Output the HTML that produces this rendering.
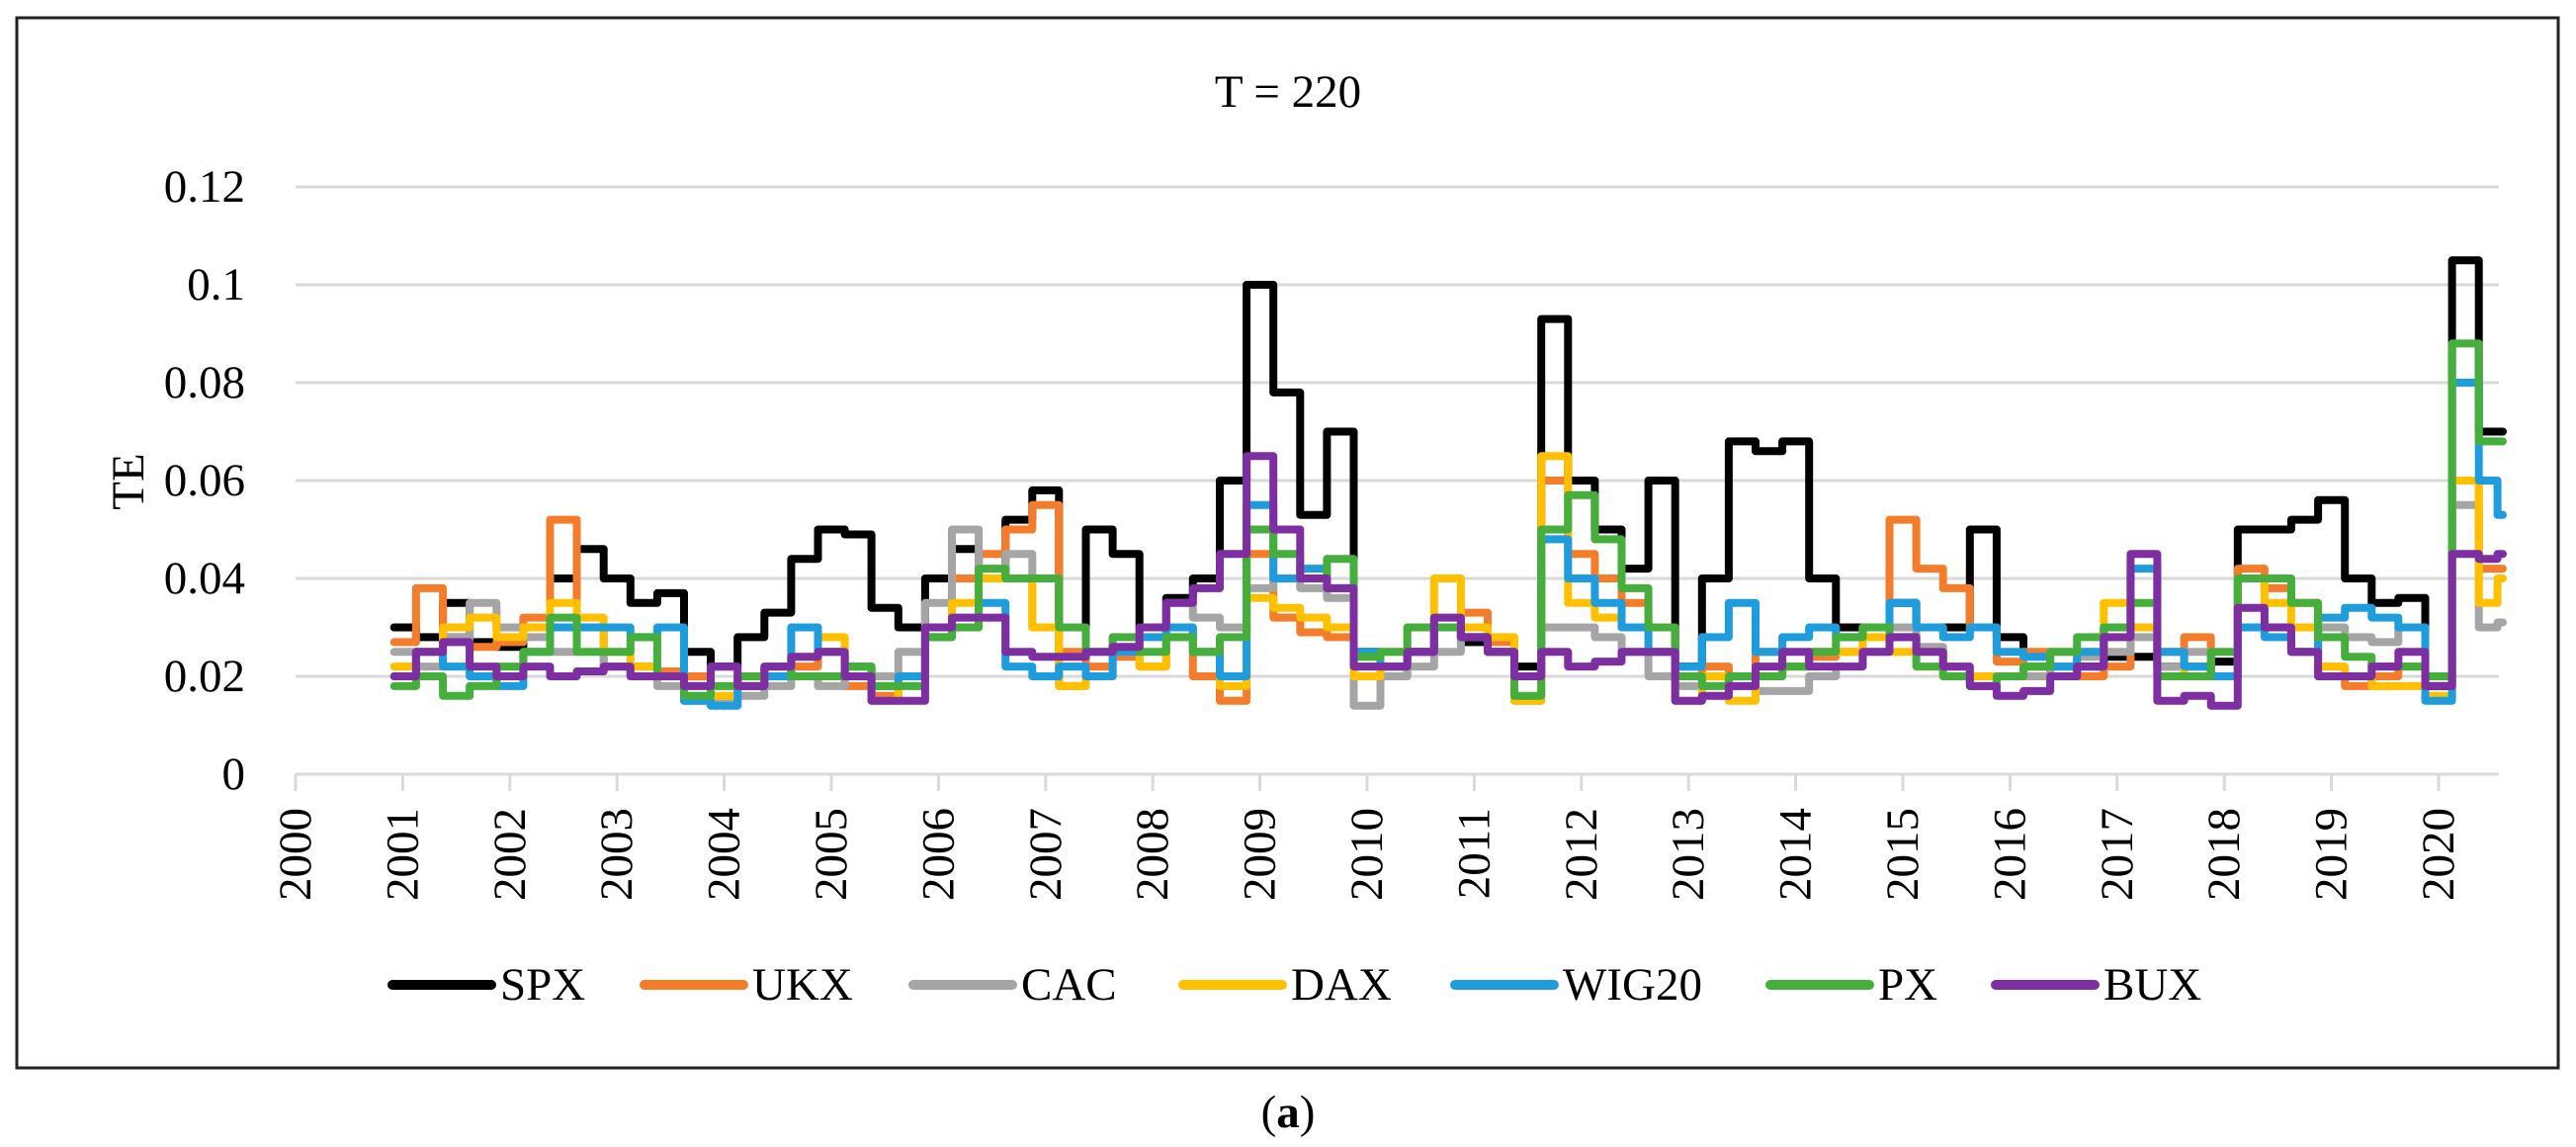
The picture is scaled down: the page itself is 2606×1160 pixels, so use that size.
<!DOCTYPE html>
<html><head><meta charset="utf-8"><style>
html,body{margin:0;padding:0;background:#fff;}
svg{display:block;font-family:"Liberation Serif",serif;}
</style></head><body>
<svg id="chart" width="2606" height="1160" viewBox="0 0 2606 1160">
<rect x="17" y="18" width="2571" height="1062" fill="#fff" stroke="#222" stroke-width="3"/>
<text x="1303" y="108" font-size="47" text-anchor="middle">T = 220</text>
<text transform="translate(130,487) rotate(-90)" font-size="47" text-anchor="middle" dominant-baseline="central">TE</text>
<g id="grid"></g><g id="axes"></g><g id="series"></g><g id="legend"></g>
<text x="1303" y="1140" font-size="47" text-anchor="middle">(<tspan font-weight="bold">a</tspan>)</text>
</svg>
<script>
const yTicks=[0,0.02,0.04,0.06,0.08,0.1,0.12];
const yTickLabels=["0","0.02","0.04","0.06","0.08","0.1","0.12"];
const years=[2000,2001,2002,2003,2004,2005,2006,2007,2008,2009,2010,2011,2012,2013,2014,2015,2016,2017,2018,2019,2020];
const seriesNames=["SPX","UKX","CAC","DAX","WIG20","PX","BUX"];
const seriesColors=["#000000","#F47D2C","#A5A5A5","#FFC000","#1F9CDB","#45AE3D","#7D2EA1"];
const dates=[];
for(let y=2001;y<2020.6;y+=0.25){dates.push(y);}
dates.push(2020.6);
const spx=[.030,.028,.035,.027,.026,.030,.040,.046,.040,.035,.037,.025,.022,.028,.033,.044,.050,.049,.034,.030,.040,.046,.040,.052,.058,.030,.050,.045,.030,.036,.040,.060,.100,.078,.053,.070,.025,.022,.025,.030,.027,.025,.022,.093,.060,.050,.042,.060,.022,.040,.068,.066,.068,.040,.030,.030,.035,.030,.030,.050,.028,.022,.020,.022,.024,.024,.022,.022,.023,.050,.050,.052,.056,.040,.035,.036,.018,.105,.070,.070];
const ukx=[.027,.038,.028,.026,.027,.032,.052,.030,.022,.022,.021,.020,.015,.018,.020,.022,.025,.018,.016,.020,.030,.040,.045,.050,.055,.025,.022,.024,.022,.030,.020,.015,.045,.032,.029,.028,.022,.020,.025,.030,.033,.027,.020,.060,.045,.040,.035,.030,.020,.022,.020,.025,.022,.024,.025,.030,.052,.042,.038,.030,.023,.025,.022,.020,.022,.030,.025,.028,.020,.042,.038,.035,.020,.018,.020,.022,.020,.060,.042,.042];
const cac=[.025,.022,.028,.035,.030,.028,.025,.030,.022,.020,.018,.015,.015,.016,.018,.020,.018,.022,.020,.025,.035,.050,.040,.045,.030,.018,.020,.025,.030,.035,.032,.030,.038,.040,.038,.036,.014,.020,.022,.025,.028,.025,.015,.030,.030,.028,.025,.020,.018,.020,.018,.017,.017,.020,.022,.025,.030,.026,.022,.020,.020,.020,.022,.024,.025,.028,.022,.025,.020,.030,.030,.025,.030,.028,.027,.030,.020,.055,.030,.031];
const dax=[.022,.025,.030,.032,.028,.030,.035,.032,.025,.022,.020,.018,.016,.020,.022,.024,.028,.020,.015,.020,.030,.035,.040,.040,.030,.018,.020,.025,.022,.028,.025,.018,.036,.034,.032,.030,.020,.025,.030,.040,.030,.028,.015,.065,.035,.032,.030,.025,.015,.020,.015,.020,.022,.025,.025,.028,.025,.025,.022,.020,.020,.022,.025,.025,.035,.030,.020,.022,.020,.040,.035,.030,.022,.020,.018,.018,.016,.060,.035,.040];
const wig20=[.020,.025,.022,.020,.018,.025,.030,.030,.030,.028,.030,.015,.014,.018,.020,.030,.025,.022,.018,.020,.028,.030,.035,.022,.020,.022,.020,.025,.028,.030,.025,.020,.055,.040,.042,.038,.025,.022,.025,.030,.028,.025,.020,.048,.040,.035,.030,.025,.022,.028,.035,.025,.028,.030,.028,.030,.035,.030,.028,.030,.025,.024,.022,.025,.030,.042,.025,.022,.020,.030,.028,.025,.032,.034,.032,.030,.015,.080,.060,.053];
const px=[.018,.020,.016,.018,.022,.025,.032,.025,.025,.028,.020,.016,.018,.020,.022,.020,.020,.022,.018,.018,.028,.030,.042,.040,.040,.030,.025,.028,.025,.028,.025,.028,.050,.045,.040,.044,.024,.025,.030,.030,.028,.025,.016,.050,.057,.048,.038,.030,.020,.018,.020,.020,.022,.025,.028,.030,.028,.022,.020,.018,.020,.022,.025,.028,.030,.035,.020,.020,.025,.040,.040,.035,.028,.024,.022,.022,.020,.088,.068,.068];
const bux=[.020,.025,.027,.022,.020,.022,.020,.021,.022,.020,.020,.018,.022,.018,.022,.024,.025,.020,.015,.015,.030,.032,.032,.025,.024,.024,.025,.026,.030,.035,.038,.045,.065,.050,.040,.038,.022,.022,.025,.032,.028,.025,.020,.025,.022,.023,.025,.025,.015,.016,.018,.022,.025,.022,.022,.025,.028,.025,.022,.018,.016,.017,.020,.022,.028,.045,.015,.016,.014,.034,.030,.025,.020,.020,.022,.025,.018,.045,.044,.045];
const seriesValues=[spx,ukx,cac,dax,wig20,px,bux];

const NS="http://www.w3.org/2000/svg";
const X0=299, YR=108.4, Y0=783, YS=4950, XR=2528;
function xScale(t){return X0+(t-2000)*YR;}
function yScale(v){return Y0-v*YS;}
function mk(tag,attrs,parent){const e=document.createElementNS(NS,tag);for(const k in attrs)e.setAttribute(k,attrs[k]);parent.appendChild(e);return e;}
const grid=document.getElementById('grid'),axes=document.getElementById('axes'),ser=document.getElementById('series'),leg=document.getElementById('legend');
yTicks.forEach((v,i)=>{
  const l=mk('line',{x1:X0,x2:XR,y1:yScale(v),y2:yScale(v),stroke:'#d9d9d9','stroke-width':3},grid);
  
  
  const t=mk('text',{x:248,y:yScale(v),'font-size':47,'text-anchor':'end','dominant-baseline':'central'},axes);
  t.textContent=yTickLabels[i];
  
  
});
years.forEach(yr=>{
  const x=xScale(yr);
  const tk=mk('line',{x1:x,x2:x,y1:Y0,y2:Y0+17,stroke:'#d9d9d9','stroke-width':3},axes);
  
  
  const t=mk('text',{transform:`translate(${x},817) rotate(-90)`,'font-size':47,'text-anchor':'end','dominant-baseline':'central'},axes);
  t.textContent=String(yr);
  
  
});
seriesValues.forEach((vals,si)=>{
  const pts=[];
  const n=vals.length;
  vals.forEach((v,i)=>{
    const y=yScale(v).toFixed(1);
    const a=i===0?dates[0]-0.08:(dates[i-1]+dates[i])/2;
    const b=i===n-1?dates[i]:(dates[i]+dates[i+1])/2;
    pts.push(xScale(a).toFixed(1)+','+y);
    pts.push(xScale(b).toFixed(1)+','+y);
  });
  const p=mk('polyline',{points:pts.join(' '),fill:'none',stroke:seriesColors[si],'stroke-width':8,'stroke-linejoin':'round','stroke-linecap':'round'},ser);
  
  
});
const legX=[392,647,919,1192,1467,1786,2014];
seriesNames.forEach((n,i)=>{
  const g=mk('g',{},leg);
  
  
  mk('line',{x1:legX[i]+5,x2:legX[i]+105,y1:996,y2:996,stroke:seriesColors[i],'stroke-width':10,'stroke-linecap':'round'},g);
  const t=mk('text',{x:legX[i]+114,y:996,'font-size':47,'dominant-baseline':'central'},g);
  t.textContent=n;
});
</script>
</body></html>
